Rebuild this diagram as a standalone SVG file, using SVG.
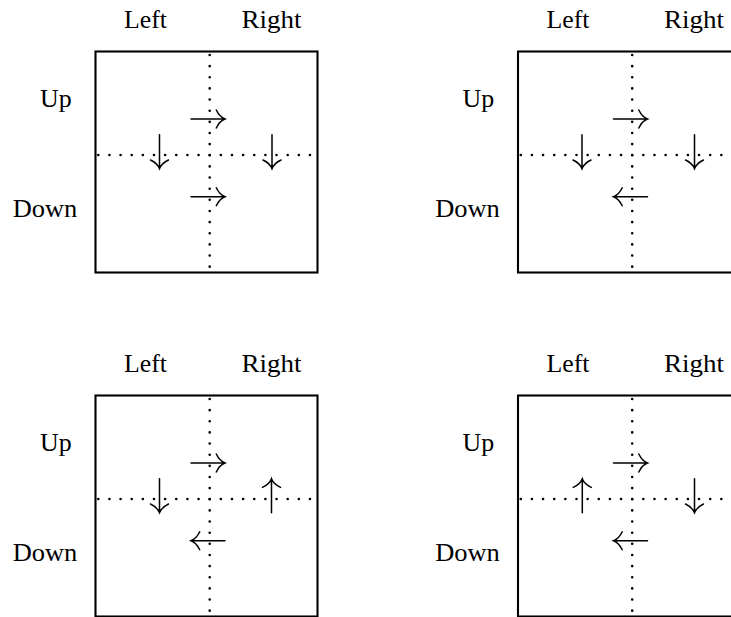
<svg xmlns="http://www.w3.org/2000/svg" xmlns:xlink="http://www.w3.org/1999/xlink" width="731" height="617" viewBox="0 0 731 617">
<style>
.box{fill:none;stroke:#000;stroke-width:2.1}
.dot{fill:none;stroke:#000;stroke-width:2.6;stroke-linecap:round;stroke-dasharray:0 11.14}
.arr{fill:none;stroke:#000;stroke-width:1.5;stroke-linecap:round}
text{font-family:"Liberation Serif","Times New Roman",serif;font-size:25px;fill:#000}
</style>
<defs>
<path id="ar" class="arr" d="M-17,0 H16.5 M8.3,-9 C10.3,-4.8 13.3,-1.4 17,0 C13.3,1.4 10.3,4.8 8.3,9"/>
<g id="frame">
<text x="124" y="28" textLength="43" lengthAdjust="spacingAndGlyphs">Left</text>
<text x="241.5" y="28" textLength="60" lengthAdjust="spacingAndGlyphs">Right</text>
<text x="40" y="106.5" textLength="31.7" lengthAdjust="spacingAndGlyphs">Up</text>
<text x="12.7" y="217" textLength="64.6" lengthAdjust="spacingAndGlyphs">Down</text>
<rect class="box" x="95.5" y="51.5" width="222" height="221"/>
<path class="dot" d="M209.7,55 V267"/>
<path class="dot" d="M98.3,155 H312"/>
</g>
</defs>
<g id="panel1">
<use xlink:href="#frame"/>
<g id="panel1-arrows">
<use xlink:href="#ar" transform="translate(208,119)"/>
<use xlink:href="#ar" transform="translate(159.5,151.7) rotate(90)"/>
<use xlink:href="#ar" transform="translate(272,151.7) rotate(90)"/>
<use xlink:href="#ar" transform="translate(208,196.7)"/>
</g>
</g>
<g id="panel2" transform="translate(422.5,0)">
<use xlink:href="#frame"/>
<g id="panel2-arrows">
<use xlink:href="#ar" transform="translate(208,119)"/>
<use xlink:href="#ar" transform="translate(159.5,151.7) rotate(90)"/>
<use xlink:href="#ar" transform="translate(272,151.7) rotate(90)"/>
<use xlink:href="#ar" transform="translate(208,196.7) rotate(180)"/>
</g>
</g>
<g id="panel3" transform="translate(0,344)">
<use xlink:href="#frame"/>
<g id="panel3-arrows">
<use xlink:href="#ar" transform="translate(208,119)"/>
<use xlink:href="#ar" transform="translate(159.5,151.7) rotate(90)"/>
<use xlink:href="#ar" transform="translate(271.5,151.7) rotate(-90)"/>
<use xlink:href="#ar" transform="translate(208,196.7) rotate(180)"/>
</g>
</g>
<g id="panel4" transform="translate(422.5,344)">
<use xlink:href="#frame"/>
<g id="panel4-arrows">
<use xlink:href="#ar" transform="translate(208,119)"/>
<use xlink:href="#ar" transform="translate(159.8,151.7) rotate(-90)"/>
<use xlink:href="#ar" transform="translate(272,151.7) rotate(90)"/>
<use xlink:href="#ar" transform="translate(208,196.7) rotate(180)"/>
</g>
</g>
</svg>
